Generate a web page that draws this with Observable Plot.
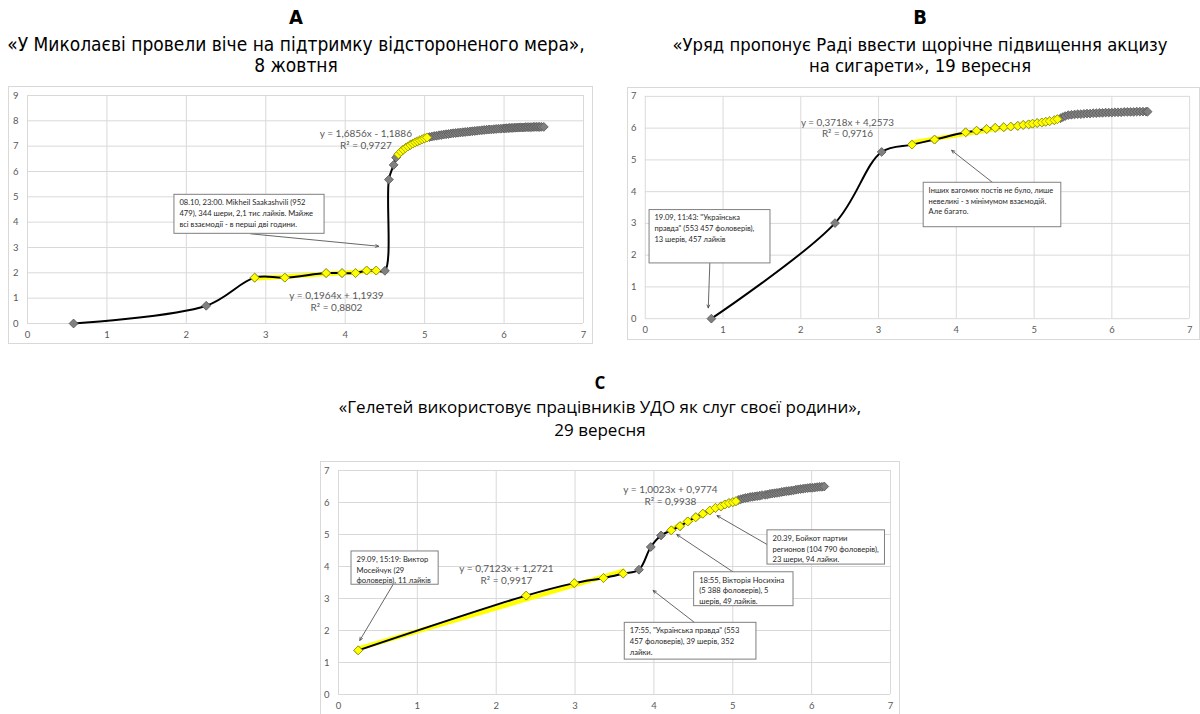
<!DOCTYPE html>
<html><head><meta charset="utf-8">
<script src="https://cdn.jsdelivr.net/npm/d3@7"></script>
<script src="https://cdn.jsdelivr.net/npm/@observablehq/plot@0.6"></script>
<style>
html,body{margin:0;padding:0;background:#fff;}
body{width:1200px;height:714px;overflow:hidden;position:relative;}
.t{position:absolute;text-align:center;color:#000;white-space:nowrap;}
.cond{font-family:"Liberation Sans Narrow","DejaVu Sans Condensed","Roboto",sans-serif;font-size:19px;line-height:21px;}
.open{font-family:"Open Sans","Noto Sans",sans-serif;font-size:17px;line-height:23px;}
.panel{position:absolute;outline:1px solid #d9d9d9;outline-offset:-1px;}
.panel svg{display:block;}
</style></head><body>
<div class="t cond" style="left:0;width:592px;top:7px;font-weight:bold;font-size:20px;">A</div>
<div class="t cond" style="left:0;width:592px;top:34px;">«У Миколаєві провели віче на підтримку відстороненого мера»,<br>8 жовтня</div>
<div class="t cond" style="left:640px;width:560px;top:7px;font-weight:bold;font-size:20px;">B</div>
<div class="t cond" style="left:640px;width:560px;top:34px;font-size:18.3px;">«Уряд пропонує Раді ввести щорічне підвищення акцизу<br>на сигарети», 19 вересня</div>
<div class="t open" style="left:0;width:1200px;top:371px;font-weight:bold;">C</div>
<div class="t open" style="left:0;width:1200px;top:395px;">«Гелетей використовує працівників УДО як слуг своєї родини»,<br>29 вересня</div>
<div id="pA" class="panel" style="left:8px;top:86px;"></div>
<div id="pB" class="panel" style="left:627px;top:87px;"></div>
<div id="pC" class="panel" style="left:320px;top:461px;"></div>
<script>
// ---- Panel A data ----
const seriesA = [[0.58,0],[2.25,0.70],[2.86,1.81],[3.24,1.81],[3.76,1.99],[3.96,1.99],[4.13,1.99],[4.27,2.09],[4.39,2.09],
[4.50,2.08],[4.55,5.68],[4.61,6.26],[4.64,6.55],
[4.67,6.68],[4.70,6.78],[4.73,6.86],[4.76,6.93],[4.79,6.99],[4.82,7.05],[4.85,7.10],[4.88,7.15],[4.91,7.19],[4.94,7.23],[4.97,7.27],[5.00,7.31],[5.03,7.34],
[5.06,7.36],[5.09,7.38],[5.12,7.40],[5.15,7.41],[5.18,7.43],[5.21,7.44],[5.24,7.46],[5.27,7.47],[5.30,7.48],[5.33,7.50],[5.36,7.51],[5.39,7.52],
[5.42,7.53],[5.45,7.54],[5.48,7.55],[5.51,7.56],[5.54,7.57],[5.57,7.58],[5.60,7.59],[5.63,7.60],[5.66,7.61],[5.69,7.62],[5.72,7.63],[5.75,7.64],
[5.78,7.65],[5.81,7.66],[5.84,7.66],[5.87,7.67],[5.90,7.68],[5.93,7.69],[5.96,7.69],[5.99,7.70],[6.01,7.70],[6.03,7.71],[6.05,7.71],[6.07,7.72],
[6.09,7.72],[6.11,7.72],[6.13,7.73],[6.15,7.73],[6.17,7.73],[6.19,7.74],[6.21,7.74],[6.23,7.74],[6.25,7.74],[6.27,7.75],[6.29,7.75],[6.31,7.75],
[6.33,7.75],[6.35,7.75],[6.37,7.76],[6.39,7.76],[6.41,7.76],[6.43,7.76],[6.45,7.76],[6.47,7.76],[6.50,7.76]];
const yellowRangesA = [[2.8,4.4],[4.66,5.04]];
const trendLabelsA = [
  {x:3.89, y:0.87, text:"y = 0,1964x + 1,1939\nR² = 0,8802"},
  {x:4.26, y:7.28, text:"y = 1,6856x - 1,1886\nR² = 0,9727"}];
const calloutsA = [{x1:1.85, x2:3.74, y1:5.08, y2:3.54,
  text:"08.10, 23:00. Mikheil Saakashvili (952\n479), 344 шери, 2,1 тис лайків. Майже\nвсі взаємодії - в перші дві години."}];
const arrowsA = [{x1:2.81, y1:3.54, x2:4.42, y2:3.05}];

// ---- Panel B data ----
const seriesB = [[0.85,0],[2.44,3.01],[3.04,5.25],[3.43,5.48],[3.72,5.64],[4.12,5.87],[4.26,5.92],[4.39,5.97],[4.50,6.01],[4.61,6.03],
[4.70,6.05],[4.79,6.07],[4.86,6.10],[4.93,6.12],[4.98,6.14],[5.04,6.16],[5.10,6.18],[5.15,6.20],[5.20,6.22],[5.26,6.25],[5.30,6.28],
[5.34,6.31],[5.37,6.35],[5.40,6.38],[5.44,6.41],[5.48,6.42],[5.52,6.43],[5.56,6.44],[5.60,6.44],[5.64,6.45],[5.68,6.46],[5.72,6.46],
[5.76,6.47],[5.80,6.47],[5.84,6.48],[5.88,6.48],[5.92,6.49],[5.96,6.49],[6.00,6.49],[6.04,6.50],[6.08,6.50],[6.12,6.50],[6.16,6.51],
[6.20,6.51],[6.24,6.51],[6.28,6.51],[6.32,6.52],[6.36,6.52],[6.40,6.52],[6.44,6.52],[6.46,6.52]];
const yellowRangesB = [[3.4,5.31]];
const trendLabelsB = [{x:2.60, y:6.0, text:"y = 0,3718x + 4,2573\nR² = 0,9716"}];
const calloutsB = [
  {x1:0.055, x2:1.61, y1:3.42, y2:1.74, text:"19.09, 11:43: \"Українська\nправда\" (553 457 фоловерів),\n13 шерів, 457 лайків"},
  {x1:3.58, x2:5.35, y1:4.28, y2:2.88, text:"Інших вагомих постів не було, лише\nневеликі - з мінімумом взаємодій.\nАле багато."}];
const arrowsB = [{x1:0.83, y1:1.74, x2:0.81, y2:0.34},{x1:4.47, y1:4.28, x2:3.94, y2:5.30}];

// ---- Panel C data ----
const seriesC = [[0.25,1.38],[2.38,3.09],[2.99,3.48],[3.36,3.64],[3.61,3.78],[3.81,3.90],[3.96,4.61],[4.09,4.97],
[4.22,5.13],[4.33,5.26],[4.43,5.41],[4.53,5.54],[4.62,5.65],[4.71,5.75],[4.78,5.83],[4.85,5.88],[4.90,5.94],[4.95,5.98],[5.00,6.01],[5.04,6.04],
[5.07,6.08],[5.10,6.10],[5.13,6.12],[5.16,6.14],[5.19,6.15],[5.22,6.17],[5.25,6.18],[5.28,6.19],[5.31,6.20],[5.34,6.21],[5.37,6.23],
[5.41,6.24],[5.44,6.25],[5.47,6.27],[5.50,6.28],[5.53,6.29],[5.56,6.30],[5.59,6.31],[5.62,6.33],[5.65,6.34],[5.68,6.35],[5.71,6.36],
[5.74,6.37],[5.77,6.38],[5.80,6.40],[5.83,6.41],[5.86,6.42],[5.89,6.43],[5.92,6.44],[5.95,6.45],[5.98,6.46],[6.01,6.46],[6.04,6.47],
[6.07,6.48],[6.10,6.49],[6.13,6.49],[6.16,6.50]];
const yellowRangesC = [[0.2,3.7],[4.2,5.05]];
const trendLabelsC = [
  {x:2.13, y:3.75, text:"y = 0,7123x + 1,2721\nR² = 0,9917"},
  {x:4.21, y:6.22, text:"y = 1,0023x + 0,9774\nR² = 0,9938"}];
const calloutsC = [
  {x1:0.165, x2:1.27, y1:4.47, y2:3.43, text:"29.09, 15:19: Виктор\nМосейчук (29\nфоловерів), 11 лайків"},
  {x1:5.44, x2:6.93, y1:5.13, y2:4.06, text:"20.39, Бойкот партии\nрегионов (104 790 фоловерів),\n23 шери, 94 лайки."},
  {x1:4.51, x2:5.77, y1:3.82, y2:2.76, text:"18:55, Вікторія Носихіна\n(5 388 фоловерів), 5\nшерів, 49 лайків."},
  {x1:3.63, x2:5.30, y1:2.24, y2:1.09, text:"17:55, \"Українська правда\" (553\n457 фоловерів), 39 шерів, 352\nлайки."}];
const arrowsC = [{x1:0.69, y1:3.43, x2:0.27, y2:1.69},{x1:5.44, y1:4.68, x2:4.80, y2:5.59},
  {x1:5.01, y1:3.82, x2:4.29, y2:5.00},{x1:4.52, y1:2.24, x2:3.99, y2:3.25}];

const xTicks = [0,1,2,3,4,5,6,7];

function panel(el, {width, height, m, yMax, series, ranges, labels, callouts, arrows}) {
  const pts = series.map(([x,y]) => ({x, y}));
  const groups = ranges.map(([a,b]) => pts.filter(d => d.x >= a && d.x <= b));
  const yellow = groups.flat();
  const yTicks = d3.range(0, yMax + 1);
  const fmt = d => String(d);
  const chart = Plot.plot({
    width, height,
    marginLeft: m[0], marginRight: m[1], marginTop: m[2], marginBottom: m[3],
    x: {domain: [0, 7]}, y: {domain: [0, yMax]},
    style: {fontFamily: "Lato, 'Open Sans', sans-serif", background: "transparent", overflow: "visible"},
    marks: [
      Plot.gridX({ticks: xTicks, stroke: "#d9d9d9", strokeOpacity: 1}),
      Plot.gridY({ticks: yTicks, stroke: "#d9d9d9", strokeOpacity: 1}),
      Plot.axisX({ticks: xTicks, tickFormat: fmt, tickSize: 0, tickPadding: 8, fontSize: 9.5, fill: "#595959", label: null}),
      Plot.axisY({ticks: yTicks, tickFormat: fmt, tickSize: 0, tickPadding: 9, fontSize: 9.5, fill: "#595959", label: null}),
      ...groups.map(g => Plot.linearRegressionY(g, {x: "x", y: "y", stroke: "#ffff00", strokeWidth: 4.5, ci: 0})),
      Plot.line(pts, {x: "x", y: "y", stroke: "#000", strokeWidth: 2, curve: "catmull-rom"}),
      Plot.dot(pts, {x: "x", y: "y", symbol: "diamond2", r: 4, fill: "#808080", stroke: "#555", strokeWidth: 0.8}),
      Plot.dot(yellow, {x: "x", y: "y", symbol: "diamond2", r: 4, fill: "#ffff00", stroke: "#9a9a00", strokeWidth: 0.8}),
      Plot.text(labels, {x: "x", y: "y", text: "text", fontSize: 10, fill: "#595959", lineHeight: 1.15}),
      Plot.arrow(arrows, {x1: "x1", y1: "y1", x2: "x2", y2: "y2", stroke: "#404040", strokeWidth: 0.8, headLength: 6, headAngle: 50}),
      Plot.rect(callouts, {x1: "x1", x2: "x2", y1: "y1", y2: "y2", fill: "white", stroke: "#7f7f7f", strokeWidth: 1}),
      Plot.text(callouts, {x: "x1", y: "y1", text: "text", textAnchor: "start", lineAnchor: "top", dx: 5, dy: 3,
        fontSize: 7.6, fill: "#1f1f1f", lineHeight: 1.4})
    ]
  });
  document.getElementById(el).appendChild(chart);
}

panel("pA", {width: 585, height: 258, m: [19, 10, 9, 21], yMax: 9, series: seriesA, ranges: yellowRangesA,
  labels: trendLabelsA, callouts: calloutsA, arrows: arrowsA});
panel("pB", {width: 580, height: 256, m: [18, 11, 9, 22], yMax: 7, series: seriesB, ranges: yellowRangesB,
  labels: trendLabelsB, callouts: calloutsB, arrows: arrowsB});
panel("pC", {width: 580, height: 260, m: [18, 10, 9, 27], yMax: 7, series: seriesC, ranges: yellowRangesC,
  labels: trendLabelsC, callouts: calloutsC, arrows: arrowsC});
</script>
</body></html>
